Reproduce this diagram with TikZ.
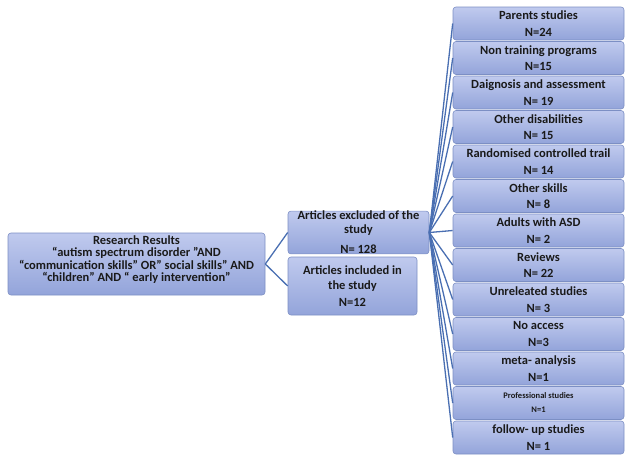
\documentclass[tikz,border=0pt]{standalone}
\usepackage{fontspec}
\setmainfont{Carlito}
\definecolor{boxtop}{HTML}{C0CAEE}
\definecolor{boxbot}{HTML}{93A4DA}
\definecolor{boxline}{HTML}{7C8FC4}
\definecolor{connc}{HTML}{4A6FB2}
\definecolor{textc}{HTML}{1A1A1A}
\begin{document}
\begin{tikzpicture}[x=1pt,y=-1pt,
  box/.style={draw=boxline, line width=0.6pt, rounded corners=3pt,
    top color=boxtop, bottom color=boxbot, align=center, inner sep=0pt,
    text=textc, font=\bfseries},
  rbox/.style={box, minimum width=171pt, minimum height=33pt},
  conn/.style={draw=connc, line width=1.3pt}]
\useasboundingbox (0,0) rectangle (626,455);

% left box
\node[box, minimum width=257pt, minimum height=62pt] (L) at (136.5,264) {};
\node[text=textc, font=\bfseries\fontsize{12.5}{12.3}\selectfont, align=center, inner sep=0pt]
  (Lt) at (136.5,259.5) {Research Results\\“autism spectrum disorder ”AND\\“communication skills” OR” social skills” AND\\“children” AND “ early intervention”};

% middle boxes
\node[box, minimum width=141pt, minimum height=41pt,
  font=\bfseries\fontsize{12.5}{14}\selectfont] (E) at (358.5,232.5)
  {Articles excluded of the\\study\\[6pt]N= 128};
\node[box, minimum width=129pt, minimum height=58pt,
  font=\bfseries\fontsize{12.5}{15}\selectfont] (I) at (352.5,286)
  {Articles included in\\the study\\[2pt]N=12};

\draw[conn] (L.east) -- (E.west);
\draw[conn] (L.east) -- (I.west);

% right boxes
\foreach \i/\a/\b in {0/Parents studies/N=24,
  1/Non training programs/N=15,
  2/Daignosis and assessment/N= 19,
  3/Other disabilities/N= 15,
  4/Randomised controlled trail/N= 14,
  5/Other skills/N= 8,
  6/Adults with ASD/N= 2,
  7/Reviews/N= 22,
  8/Unreleated studies/N= 3,
  9/No access/N=3,
  10/meta- analysis/N=1,
  12/follow- up studies/N= 1}{
  \node[rbox, font=\bfseries\fontsize{12.5}{16.5}\selectfont] (R\i) at (538.5,{23.5+34.5*\i}) {\a\\\b};
  \draw[conn] (E.east) -- (R\i.west);
}
\node[rbox, font=\bfseries\fontsize{8.5}{14}\selectfont] (R11) at (538.5,{23.5+34.5*11}) {Professional studies\\N=1};
\draw[conn] (E.east) -- (R11.west);
\end{tikzpicture}
\end{document}
